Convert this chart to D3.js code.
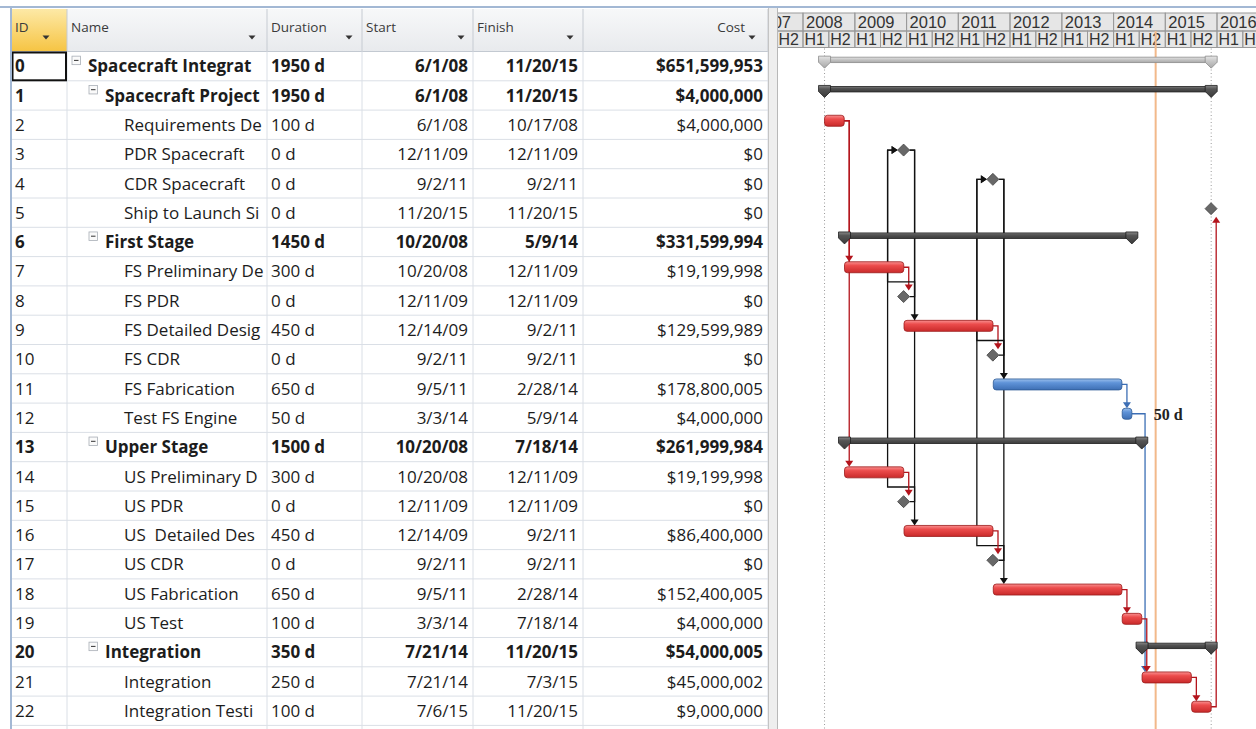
<!DOCTYPE html>
<html><head><meta charset="utf-8">
<script src="https://cdn.jsdelivr.net/npm/d3@7"></script>
<style>body{margin:0;background:#fff;overflow:hidden}svg{display:block}</style>
</head><body>
<svg id="c" width="1256" height="729"></svg>
<script>
// ---------------- DATA ----------------
const ids = [0,1,2,3,4,5,6,7,8,9,10,11,12,13,14,15,16,17,18,19,20,21,22];
const names = ["Spacecraft Integrat","Spacecraft Project","Requirements De","PDR Spacecraft","CDR Spacecraft","Ship to Launch Si","First Stage","FS Preliminary De","FS PDR","FS Detailed Desig","FS CDR","FS Fabrication","Test FS Engine","Upper Stage","US Preliminary D","US PDR","US  Detailed Des","US CDR","US Fabrication","US Test","Integration","Integration","Integration Testi"];
const durations = ["1950 d","1950 d","100 d","0 d","0 d","0 d","1450 d","300 d","0 d","450 d","0 d","650 d","50 d","1500 d","300 d","0 d","450 d","0 d","650 d","100 d","350 d","250 d","100 d"];
const starts = ["6/1/08","6/1/08","6/1/08","12/11/09","9/2/11","11/20/15","10/20/08","10/20/08","12/11/09","12/14/09","9/2/11","9/5/11","3/3/14","10/20/08","10/20/08","12/11/09","12/14/09","9/2/11","9/5/11","3/3/14","7/21/14","7/21/14","7/6/15"];
const finishes = ["11/20/15","11/20/15","10/17/08","12/11/09","9/2/11","11/20/15","5/9/14","12/11/09","12/11/09","9/2/11","9/2/11","2/28/14","5/9/14","7/18/14","12/11/09","12/11/09","9/2/11","9/2/11","2/28/14","7/18/14","11/20/15","7/3/15","11/20/15"];
const costs = ["$651,599,953","$4,000,000","$4,000,000","$0","$0","$0","$331,599,994","$19,199,998","$0","$129,599,989","$0","$178,800,005","$4,000,000","$261,999,984","$19,199,998","$0","$86,400,000","$0","$152,400,005","$4,000,000","$54,000,005","$45,000,002","$9,000,000"];
const levels = [0,1,2,2,2,2,1,2,2,2,2,2,2,1,2,2,2,2,2,2,1,2,2];
const summaryRows = [0,1,6,13,20];
const projectSummaryRow = 0;
const nonCriticalTasks = [11,12];
const links = [[2,7],[2,14],[7,8],[8,3],[15,3],[3,9],[3,16],[9,10],[10,4],[17,4],[4,11],[4,18],[11,12],[12,21],[14,15],[16,17],[18,19],[19,21],[21,22],[22,5]];
const barLabels = [[12,"50 d"]];
const columnTitles = ["ID","Name","Duration","Start","Finish","Cost"];
const yearLabels = ["2007","2008","2009","2010","2011","2012","2013","2014","2015","2016"];
const halfLabels = ["H1","H2"];
const statusDate = "10/25/14";

// ---------------- SETUP ----------------
const svg = d3.select("#c");
const parse = d3.timeParse("%m/%d/%y");
const x = d3.scaleTime().domain([new Date(2008,0,1), new Date(2016,0,1)]).range([803,1217]);
const rowH = 29.3, top0 = 51.5;
const y = d3.scaleBand().domain(ids).range([top0, top0 + ids.length*rowH]);
const colEdges = [11,67,267,362,473,583,768];
const ganttL = 778, ganttR = 1256, ganttOff = -4;
const BODY = "'Open Sans','Noto Sans',sans-serif";
const TS = "'Liberation Sans',Arial,sans-serif";

const defs = svg.append("defs");
function grad(id, stops){
  const g = defs.append("linearGradient").attr("id",id).attr("x1",0).attr("y1",0).attr("x2",0).attr("y2",1);
  stops.forEach(s=>g.append("stop").attr("offset",s[0]).attr("stop-color",s[1]));
}
grad("hdr",[[0,"#f7f8f9"],[1,"#e8eaed"]]);
grad("hdrId",[[0,"#fde9a6"],[1,"#f6c443"]]);
grad("red",[[0,"#f99090"],[0.35,"#ec4c4c"],[1,"#c92a2a"]]);
grad("blue",[[0,"#9cc0ec"],[0.35,"#5f93d8"],[1,"#3e6fb4"]]);
grad("sumDark",[[0,"#8a8a8a"],[0.3,"#555"],[1,"#3a3a3a"]]);
grad("sumLight",[[0,"#e6e6e6"],[0.4,"#c8c8c8"],[1,"#a8a8a8"]]);
colEdges.slice(0,-1).forEach((e,i)=>{
  defs.append("clipPath").attr("id","col"+i).append("rect")
    .attr("x",e+1).attr("y",0).attr("width",colEdges[i+1]-e-2).attr("height",729);
});
defs.append("clipPath").attr("id","gantt").append("rect").attr("x",ganttL).attr("y",0).attr("width",ganttR-ganttL).attr("height",729);

// ---------------- TABLE ----------------
const tbl = svg.append("g");
tbl.append("rect").attr("x",11).attr("y",9).attr("width",757).attr("height",top0-9).attr("fill","url(#hdr)");
tbl.append("rect").attr("x",11).attr("y",9).attr("width",colEdges[1]-11).attr("height",top0-9).attr("fill","url(#hdrId)");
ids.forEach(id=>{
  tbl.append("line").attr("x1",11).attr("x2",768).attr("y1",y(id)+rowH).attr("y2",y(id)+rowH).attr("stroke","#dadfe6");
});
tbl.append("line").attr("x1",11).attr("x2",768).attr("y1",top0).attr("y2",top0).attr("stroke","#c3c9d1");
colEdges.slice(1).forEach(e=>{
  tbl.append("line").attr("x1",e).attr("x2",e).attr("y1",9).attr("y2",top0).attr("stroke","#c6cbd2");
  tbl.append("line").attr("x1",e).attr("x2",e).attr("y1",top0).attr("y2",729).attr("stroke","#dadfe6");
});
const hdrTextX = [15,71,271,366,477,745];
const hdrArrowX = [46,252,349,461,570,752];
columnTitles.forEach((t,i)=>{
  tbl.append("text").attr("x",hdrTextX[i]).attr("y",32).attr("font-family",BODY).attr("font-size",13.5)
    .attr("fill","#3a3a3a").attr("text-anchor", i===5?"end":"start").text(t);
  const ax = hdrArrowX[i];
  tbl.append("path").attr("d",`M${ax-3.5},35.5L${ax+3.5},35.5L${ax},39.5Z`).attr("fill","#333");
});
tbl.append("rect").attr("x",12.5).attr("y",y(0)+1).attr("width",colEdges[1]-13.5).attr("height",rowH-1.5)
  .attr("fill","none").attr("stroke","#111").attr("stroke-width",2);

const nameX = [88,105,124];
ids.forEach((id,i)=>{
  const isSum = summaryRows.includes(id);
  const c = y(id) + rowH/2;
  const bl = c + 6.2;
  const fw = isSum ? "bold" : "normal";
  const common = s=>s.attr("font-family",BODY).attr("font-size",17).attr("font-weight",fw).attr("fill","#1c1c1c").style("white-space","pre");
  common(tbl.append("text").attr("clip-path","url(#col0)").attr("x",15).attr("y",bl).text(id));
  const nx = nameX[levels[i]];
  common(tbl.append("text").attr("clip-path","url(#col1)").attr("x",nx).attr("y",bl).text(names[i]));
  if(isSum){
    const bx = nx-16, by = c-10;
    tbl.append("rect").attr("x",bx).attr("y",by).attr("width",8.5).attr("height",8.5).attr("fill","#fafafa").attr("stroke","#a8aeb6").attr("stroke-width",0.8);
    tbl.append("line").attr("x1",bx+2).attr("x2",bx+6.5).attr("y1",by+4.25).attr("y2",by+4.25).attr("stroke","#333").attr("stroke-width",1);
  }
  common(tbl.append("text").attr("clip-path","url(#col2)").attr("x",271).attr("y",bl).text(durations[i]));
  common(tbl.append("text").attr("clip-path","url(#col3)").attr("x",468).attr("y",bl).attr("text-anchor","end").text(starts[i]));
  common(tbl.append("text").attr("clip-path","url(#col4)").attr("x",578).attr("y",bl).attr("text-anchor","end").text(finishes[i]));
  common(tbl.append("text").attr("clip-path","url(#col5)").attr("x",763).attr("y",bl).attr("text-anchor","end").text(costs[i]));
});

svg.append("line").attr("x1",0).attr("x2",1256).attr("y1",7).attr("y2",7).attr("stroke","#a3b8d4").attr("stroke-width",2);
svg.append("line").attr("x1",11).attr("x2",11).attr("y1",7).attr("y2",729).attr("stroke","#a3b8d4").attr("stroke-width",2);

svg.append("rect").attr("x",768).attr("y",8).attr("width",ganttL-768).attr("height",721).attr("fill","#eeeeee");
svg.append("line").attr("x1",768.5).attr("x2",768.5).attr("y1",8).attr("y2",729).attr("stroke","#c4c4c4");
svg.append("line").attr("x1",ganttL-0.5).attr("x2",ganttL-0.5).attr("y1",8).attr("y2",729).attr("stroke","#b8b8b8");

// ---------------- GANTT ----------------
const g = svg.append("g").attr("clip-path","url(#gantt)");
const tsTop = 13, tsMid = 31, tsBot = 47.5;
g.append("rect").attr("x",ganttL).attr("y",tsTop).attr("width",ganttR-ganttL).attr("height",tsBot-tsTop).attr("fill","#e6e6e6");
yearLabels.forEach(lbl=>{
  const yr = +lbl;
  const x0 = x(new Date(yr,0,1)), xm = x(new Date(yr,6,1)), x1 = x(new Date(yr+1,0,1));
  g.append("rect").attr("x",x0).attr("y",tsTop).attr("width",x1-x0).attr("height",tsMid-tsTop).attr("fill","none").attr("stroke","#9a9a9a");
  g.append("text").attr("x",x0+3).attr("y",tsMid-3).attr("font-family",TS).attr("font-size",16.5).attr("fill","#333").text(lbl);
  [[x0,xm],[xm,x1]].forEach((h,k)=>{
    g.append("rect").attr("x",h[0]).attr("y",tsMid).attr("width",h[1]-h[0]).attr("height",tsBot-tsMid).attr("fill","none").attr("stroke","#9a9a9a");
    g.append("text").attr("x",h[0]+1.5).attr("y",tsBot-2.5).attr("font-family",TS).attr("font-size",16).attr("fill","#333").text(halfLabels[k]);
  });
});

const yc = id => y(id) + rowH/2 + ganttOff;
const isMile = i => durations[i] === "0 d";
const sDate = i => parse(starts[i]);
const eDate = i => isMile(i) ? parse(finishes[i]) : d3.timeDay.offset(parse(finishes[i]),1);

const pS = x(sDate(projectSummaryRow)), pE = x(eDate(projectSummaryRow));
[pS,pE].forEach(px=>g.append("line").attr("x1",px).attr("x2",px).attr("y1",tsBot+1).attr("y2",729)
  .attr("stroke","#9a9a9a").attr("stroke-dasharray","1,2.5"));
const sx = x(parse(statusDate));
g.append("line").attr("x1",sx).attr("x2",sx).attr("y1",tsMid).attr("y2",729).attr("stroke","#f2b98a").attr("stroke-width",2);

function predColor(p){
  if(isMile(p)) return "#111";
  return nonCriticalTasks.includes(p) ? "#3d6fb5" : "#b3141c";
}
const halfH = i => isMile(i) ? 6 : 5.5;
links.forEach(([p,s])=>{
  const col = predColor(p);
  const pe = isMile(p) ? x(sDate(p))+6 : x(eDate(p));
  const pc = yc(p), sc = yc(s);
  const sxs = x(sDate(s));
  let d, arrow;
  if(s > p){
    const x0 = Math.max(pe+5, sxs+3);
    const tip = sc - halfH(s);
    d = `M${pe},${pc}H${x0}V${tip-5}`;
    arrow = `M${x0-4},${tip-6}L${x0+4},${tip-6}L${x0},${tip}Z`;
  } else if (sxs < pe - 1){
    const x0 = pe+5, ym = pc - rowH/2, xl = sxs - 16, tip = sxs - 6;
    d = `M${pe},${pc}H${x0}V${ym}H${xl}V${sc}H${tip-5}`;
    arrow = `M${tip-6},${sc-4}L${tip-6},${sc+4}L${tip},${sc}Z`;
  } else {
    const x0 = pe+5, tip = sc + halfH(s) + 2;
    d = `M${pe},${pc}H${x0}V${tip+5}`;
    arrow = `M${x0-4},${tip+6}L${x0+4},${tip+6}L${x0},${tip}Z`;
  }
  g.append("path").attr("d",d).attr("fill","none").attr("stroke",col).attr("stroke-width",1.3);
  g.append("path").attr("d",arrow).attr("fill",col);
});

ids.forEach((id,i)=>{
  const c = yc(id);
  const xs = x(sDate(i)), xe = x(eDate(i));
  if(summaryRows.includes(id)){
    const light = id === projectSummaryRow;
    const fill = light ? "url(#sumLight)" : "url(#sumDark)";
    const stroke = light ? "#8c8c8c" : "#1e1e1e";
    g.append("rect").attr("x",xs).attr("y",c-5).attr("width",xe-xs).attr("height",5.5).attr("fill",fill).attr("stroke",stroke).attr("stroke-width",0.8);
    [xs,xe].forEach(cx=>{
      g.append("path").attr("d",`M${cx-6},${c-6}H${cx+6}V${c}L${cx},${c+6}L${cx-6},${c}Z`)
        .attr("fill",fill).attr("stroke",stroke).attr("stroke-width",0.8);
    });
  } else if(isMile(i)){
    g.append("path").attr("d",`M${xs},${c-6}L${xs+6},${c}L${xs},${c+6}L${xs-6},${c}Z`)
      .attr("fill","#686868").attr("stroke","#444").attr("stroke-width",0.8);
  } else {
    const blue = nonCriticalTasks.includes(id);
    g.append("rect").attr("x",xs).attr("y",c-5.5).attr("width",Math.max(3,xe-xs)).attr("height",11).attr("rx",3)
      .attr("fill", blue ? "url(#blue)" : "url(#red)").attr("stroke", blue ? "#2d5a95" : "#9a1b1b").attr("stroke-width",0.8);
  }
});

barLabels.forEach(([id,t])=>{
  g.append("text").attr("x",x(eDate(id))+22).attr("y",yc(id)+6).attr("font-family","'Liberation Serif','Times New Roman',serif")
    .attr("font-weight","bold").attr("font-size",16).attr("fill","#222").text(t);
});
</script>
</body></html>
